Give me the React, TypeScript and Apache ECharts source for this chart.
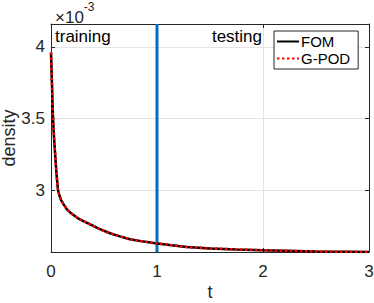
import React, { useEffect, useRef } from "react";
import * as echarts from "echarts";

const tValues = [0, 0.01, 0.019, 0.03, 0.041, 0.052, 0.066, 0.08, 0.095, 0.113, 0.15, 0.19, 0.26, 0.3, 0.38, 0.45, 0.557, 0.65, 0.745, 0.85, 1.0, 1.12, 1.28, 1.5, 1.75, 2.0, 2.5, 3.0];
const fomValues = [3.96, 3.72, 3.5, 3.35, 3.23, 3.11, 3.0, 2.96, 2.93, 2.907, 2.865, 2.837, 2.8, 2.785, 2.756, 2.73, 2.698, 2.676, 2.656, 2.643, 2.627, 2.616, 2.602, 2.592, 2.585, 2.579, 2.571, 2.567];
const gpodValues = [3.96, 3.72, 3.5, 3.35, 3.23, 3.11, 3.0, 2.96, 2.93, 2.907, 2.865, 2.837, 2.8, 2.785, 2.756, 2.73, 2.698, 2.676, 2.656, 2.643, 2.627, 2.616, 2.602, 2.592, 2.585, 2.579, 2.571, 2.567];
const splitT = [1, 1];
const splitY = [2.567, 4.16];
const xTicks = [0, 1, 2, 3];
const yTicks = [3, 3.5, 4];
const seriesNames = ["FOM", "G-POD"];

const FONT = "Liberation Sans, Arial, Helvetica, sans-serif";
const AX = "#262626";
const GRID = "#e3e3e3";

export default function App() {
  const ref = useRef<HTMLDivElement>(null);
  useEffect(() => {
    const chart = echarts.init(ref.current!, null, { renderer: "svg" });
    const yLabel = (v: number) => (yTicks.some((t) => Math.abs(t - v) < 1e-9) ? String(v) : "");
    chart.setOption({
      animation: false,
      backgroundColor: "#ffffff",
      textStyle: { fontFamily: FONT },
      grid: { left: 51, right: 5, top: 24, bottom: 51, containLabel: false, outerBoundsMode: "none" },
      xAxis: [
        {
          type: "value", min: 0, max: 3, interval: 1,
          name: "t", nameLocation: "middle", nameGap: 31, nameMoveOverlap: false,
          nameTextStyle: { color: AX, fontSize: 18, fontFamily: FONT },
          axisLine: { show: true, onZero: false, lineStyle: { color: AX, width: 1 } },
          axisTick: { show: true, inside: true, length: 4, lineStyle: { color: AX } },
          axisLabel: { color: AX, fontSize: 17, margin: 11, fontFamily: FONT, formatter: (v: number) => (xTicks.includes(v) ? String(v) : "") },
          splitLine: { show: true, lineStyle: { color: GRID, width: 1 } },
        },
        {
          type: "value", min: 0, max: 3, interval: 1, position: "top",
          axisLine: { show: true, onZero: false, lineStyle: { color: AX, width: 1 } },
          axisTick: { show: true, inside: true, length: 4, lineStyle: { color: AX } },
          axisLabel: { show: false },
          splitLine: { show: false },
        },
      ],
      yAxis: [
        {
          type: "value", min: 2.567, max: 4.16, splitNumber: 3,
          name: "density", nameLocation: "middle", nameGap: 33, nameMoveOverlap: false,
          nameTextStyle: { color: AX, fontSize: 18, fontFamily: FONT },
          axisLine: { show: true, onZero: false, lineStyle: { color: AX, width: 1 } },
          axisTick: { show: true, inside: true, length: 4, lineStyle: { color: AX } },
          axisLabel: { color: AX, fontSize: 17, margin: 6, fontFamily: FONT, showMinLabel: false, showMaxLabel: false, formatter: yLabel },
          splitLine: { show: true, lineStyle: { color: GRID, width: 1 } },
        },
        {
          type: "value", min: 2.567, max: 4.16, splitNumber: 3, position: "right",
          axisLine: { show: true, onZero: false, lineStyle: { color: AX, width: 1 } },
          axisTick: { show: true, inside: true, length: 4, lineStyle: { color: AX } },
          axisLabel: { show: false },
          splitLine: { show: false },
        },
      ],
      legend: {
        show: true,
        data: seriesNames,
        orient: "vertical",
        left: 274, top: 31,
        width: 84,
        padding: [3, 8, 3, 2],
        itemGap: 2,
        itemWidth: 22, itemHeight: 18,
        borderColor: AX, borderWidth: 1,
        borderRadius: 0,
        backgroundColor: "#ffffff",
        itemStyle: { opacity: 0 },
        textStyle: { color: "#000", fontSize: 15, fontFamily: FONT, padding: [0, 0, 0, -3] },
      },
      graphic: [
        {
          type: "text", left: 55, top: 1,
          style: {
            text: "{a|×10}{b|-3}",
            rich: {
              a: { fontSize: 17, fontFamily: FONT, fill: AX, verticalAlign: "bottom", padding: [8, 0, 0, 0] },
              b: { fontSize: 12, fontFamily: FONT, fill: AX, verticalAlign: "top" },
            },
          },
        },
        { type: "text", left: 55, top: 28, style: { text: "training", fontSize: 17, fontFamily: FONT, fill: "#000" } },
        { type: "text", right: 112, top: 28, style: { text: "testing", fontSize: 17, fontFamily: FONT, fill: "#000" } },
      ],
      series: [
        {
          name: "split", type: "line", data: splitT.map((t, i) => [t, splitY[i]]),
          symbol: "none", lineStyle: { color: "#0072BD", width: 3 }, z: 1, silent: true,
        },
        {
          name: seriesNames[0], type: "line", data: tValues.map((t, i) => [t, fomValues[i]]),
          symbol: "none", color: "#000000", lineStyle: { color: "#000000", width: 2.5 }, z: 2,
        },
        {
          name: seriesNames[1], type: "line", data: tValues.map((t, i) => [t, gpodValues[i]]),
          symbol: "none", color: "#ff0000", lineStyle: { color: "#ff0000", width: 2.5, type: [2.5, 2.5] }, z: 3,
        },
      ],
    });
    return () => chart.dispose();
  }, []);
  return <div ref={ref} style={{ width: 374, height: 303, position: "absolute", left: 0, top: 0 }} />;
}
